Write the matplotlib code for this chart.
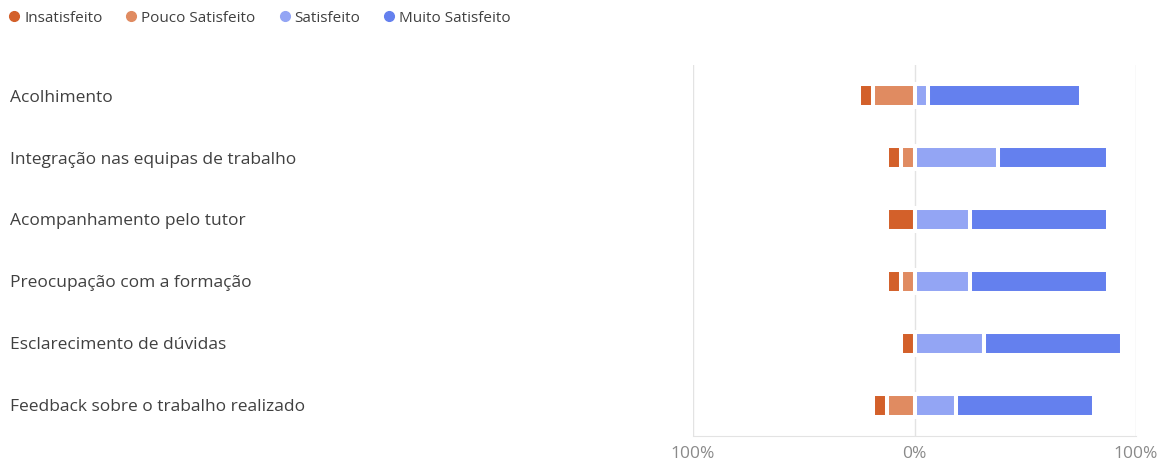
import matplotlib
matplotlib.use('Agg')
import matplotlib.pyplot as plt
import matplotlib.transforms as mtransforms
from matplotlib.lines import Line2D
import numpy as np

plt.rcParams['font.family'] = ['Open Sans', 'DejaVu Sans']

# ------------------------------ DATA ------------------------------
categories = [
    'Acolhimento',
    'Integração nas equipas de trabalho',
    'Acompanhamento pelo tutor',
    'Preocupação com a formação',
    'Esclarecimento de dúvidas',
    'Feedback sobre o trabalho realizado',
]
series = ['Insatisfeito', 'Pouco Satisfeito', 'Satisfeito', 'Muito Satisfeito']

# percentages per category
insatisfeito = [6.25, 6.25, 12.5, 6.25, 6.25, 6.25]
pouco = [18.75, 6.25, 0, 6.25, 0, 12.5]
satisfeito = [6.25, 37.5, 25, 25, 31.25, 18.75]
muito = [68.75, 50, 62.5, 62.5, 62.5, 62.5]

xticks = [-100, 0, 100]
xticklabels = ['100%', '0%', '100%']

colors = ['#d3602a', '#e08b61', '#93a5f4', '#6480ee']

# ------------------------------ PLOT ------------------------------
fig = plt.figure(figsize=(11.63, 4.61), dpi=100)
ax = fig.add_axes([693 / 1163, 25 / 461, 443 / 1163, 371 / 461])

y = np.arange(len(categories))
h = 0.37
ew = 2.9  # white separators between segments

pouco_arr = np.array(pouco)
insat_arr = np.array(insatisfeito)
sat_arr = np.array(satisfeito)

ax.barh(y, -pouco_arr, height=h, color=colors[1], edgecolor='white', linewidth=ew, zorder=3)
ax.barh(y, -insat_arr, left=-pouco_arr, height=h, color=colors[0], edgecolor='white', linewidth=ew, zorder=3)
ax.barh(y, sat_arr, height=h, color=colors[2], edgecolor='white', linewidth=ew, zorder=3)
ax.barh(y, muito, left=sat_arr, height=h, color=colors[3], edgecolor='white', linewidth=ew, zorder=3)

ax.set_xlim(-100, 100)
ax.set_ylim(len(categories) - 0.5, -0.5)

for xv in xticks:
    ax.axvline(xv, color='#e3e3e3', linewidth=1, zorder=1)

for s in ['top', 'right', 'left']:
    ax.spines[s].set_visible(False)
ax.spines['bottom'].set_color('#e3e3e3')

ax.set_yticks([])
ax.set_xticks(xticks)
ax.set_xticklabels(xticklabels, color='#8a8a8a', fontsize=12.5)
ax.tick_params(axis='x', length=0, pad=7)

# category labels, left aligned at the figure edge
trans = mtransforms.blended_transform_factory(fig.transFigure, ax.transData)
for i, c in enumerate(categories):
    ax.text(10 / 1163, i + 0.03, c, transform=trans, ha='left', va='center',
            fontsize=12.5, color='#404040')

# legend
handles = [Line2D([], [], marker='o', linestyle='', markersize=7, color=col) for col in colors]
fig.legend(handles, series, loc='center left', bbox_to_anchor=(8 / 1163, 1 - 18 / 461),
           ncol=4, frameon=False, fontsize=11, handletextpad=0.25, columnspacing=1.5,
           handlelength=0.8, labelcolor='#404040', borderaxespad=0, borderpad=0)

fig.savefig('out.png', dpi=100)
